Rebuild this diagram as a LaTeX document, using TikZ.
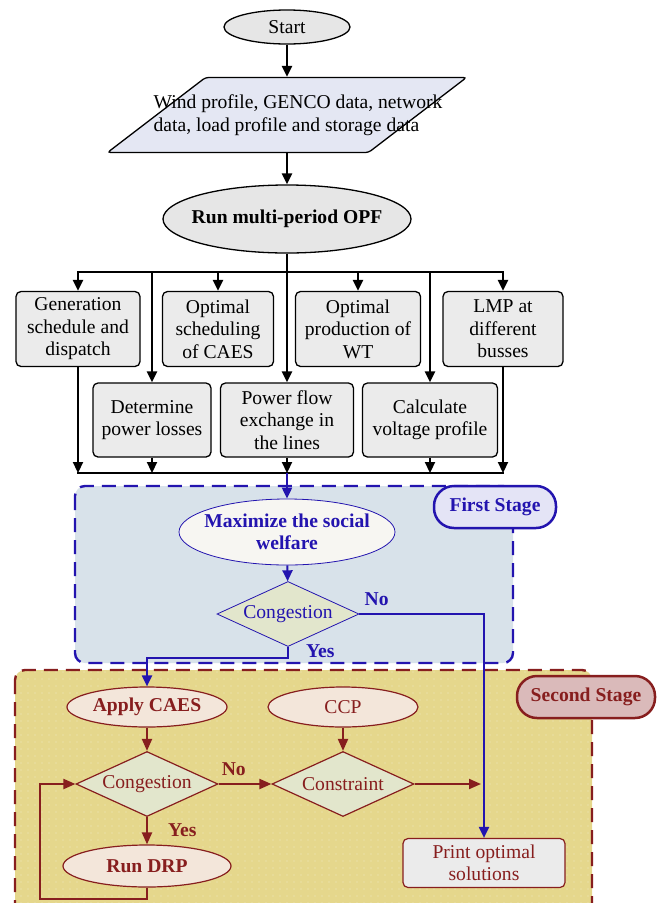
\documentclass[tikz,border=0pt]{standalone}
\usepackage{fontspec}
\setmainfont{Liberation Serif}
\usetikzlibrary{shapes.geometric, arrows.meta, patterns.meta}

\definecolor{fblue}{RGB}{35,20,175}
\definecolor{fred}{RGB}{135,30,30}
\definecolor{boxgray}{RGB}{235,235,235}
\definecolor{ellgray}{RGB}{230,230,230}
\definecolor{paraback}{RGB}{228,231,243}
\definecolor{stageone}{RGB}{216,226,234}
\definecolor{stagetwo}{RGB}{229,215,140}
\definecolor{labone}{RGB}{228,228,246}
\definecolor{labtwo}{RGB}{218,186,186}
\definecolor{ellcream}{RGB}{243,230,218}
\definecolor{ellwhite}{RGB}{247,246,242}
\definecolor{diamback}{RGB}{226,230,204}

\newcommand\flowfont{\fontsize{19.6}{22.5}\selectfont}

\tikzset{
	opfchart/.style={
			x=1pt, y=-1pt,
			every node/.style={font=\flowfont, align=center, inner sep=1pt},
			gbox/.style={rectangle, rounded corners=5pt, draw, line width=1.3pt, fill=boxgray, minimum height=75pt},
			gell/.style={ellipse, draw, line width=1.3pt, fill=ellgray},
			para/.style={trapezium, trapezium left angle=59, trapezium right angle=121, trapezium stretches=true, minimum width=359pt, minimum height=75pt, draw, line width=1.3pt, fill=paraback, rounded corners=3pt},
			bell/.style={ellipse, draw=fblue, line width=0.8pt, fill=ellwhite, text=fblue, font=\flowfont\bfseries},
			bdiam/.style={diamond, shape aspect=2.2, draw=fblue, line width=0.8pt, fill=diamback, text=fblue, minimum width=142pt, minimum height=65pt},
			rell/.style={ellipse, draw=fred, line width=1.2pt, fill=ellcream, text=fred},
			rdiam/.style={diamond, shape aspect=2.2, draw=fred, line width=1.2pt, fill=diamback, text=fred, minimum width=142pt, minimum height=65pt},
			rbox/.style={rectangle, rounded corners=5pt, draw=fred, line width=1.2pt, fill=boxgray, text=fred, minimum width=162pt, minimum height=49pt},
			stagetag/.style={rectangle, rounded corners=20pt, line width=2.5pt, minimum height=42pt, font=\flowfont\bfseries},
			blab/.style={text=fblue, font=\flowfont\bfseries},
			rlab/.style={text=fred, font=\flowfont\bfseries},
			bus/.style={line width=2.2pt, line cap=rect},
			arr/.style={-{Triangle[length=11pt,width=10pt]}, line width=2.2pt},
			barr/.style={-{Triangle[length=11pt,width=10pt]}, line width=2pt, draw=fblue},
			rarr/.style={-{Triangle[length=12pt,width=10pt]}, line width=2pt, draw=fred},
			region/.style={line width=2.4pt, dash pattern=on 14pt off 8pt, rounded corners=10pt},
		}
}

\begin{document}
\begin{tikzpicture}[opfchart]
	\useasboundingbox (0,0) rectangle (657,903);

	\draw[region, draw=fblue, fill=stageone] (75,486) rectangle (513,663);
	\begin{scope}
		\clip (0,0) rectangle (657,903);
		\draw[region, draw=fred, preaction={fill=stagetwo}, pattern={Dots[radius=0.7pt,distance=7pt]}, pattern color=stagetwo!55!white] (15,670) rectangle (592,940);
	\end{scope}

	\node[gell, minimum width=126pt, minimum height=34pt] (start) at (287,27) {Start};
	\node[para] (data) at (287,115) {};
	\node[align=left] (datatxt) at (298,115) {Wind profile, GENCO data, network\\data, load profile and storage data};
	\node[gell, font=\flowfont\bfseries, inner xsep=-10pt, minimum width=248pt, minimum height=68pt] (opf) at (287,219) {Run multi-period OPF};

	\node[gbox, minimum width=124pt] (gen) at (78,329) {Generation\\schedule and\\dispatch};
	\node[gbox, minimum width=111pt] (sched) at (218,329) {Optimal\\scheduling\\of CAES};
	\node[gbox, minimum width=125pt] (prod) at (358,329) {Optimal\\production of\\WT};
	\node[gbox, minimum width=120pt] (lmp) at (503,329) {LMP at\\different\\busses};
	\node[gbox, minimum width=118pt, minimum height=74pt] (loss) at (152,420) {Determine\\power losses};
	\node[gbox, minimum width=133pt, minimum height=74pt] (pflow) at (287,420) {Power flow\\exchange in\\the lines};
	\node[gbox, minimum width=135pt, minimum height=74pt] (volt) at (430,420) {Calculate\\voltage profile};
	\coordinate (topbus) at (287,272);
	\coordinate (botbus) at (287,473);

	\node[bell, inner xsep=-10pt, minimum width=216pt, minimum height=66pt] (welfare) at (287,532) {Maximize the social\\welfare};
	\node[bdiam] (cong1) at (288,614) {Congestion};
	\node[stagetag, draw=fblue, fill=labone, text=fblue, minimum width=122pt] (first) at (495,507) {First Stage};

	\node[rell, font=\flowfont\bfseries, minimum width=160pt, minimum height=40pt] (caes) at (147,707) {Apply CAES};
	\node[rell, minimum width=150pt, minimum height=40pt] (ccp) at (343,707) {CCP};
	\node[rdiam] (cong2) at (147,784) {Congestion};
	\node[rdiam] (cons) at (343,784) {Constraint};
	\node[rell, font=\flowfont\bfseries, minimum width=168pt, minimum height=42pt] (drp) at (147,866) {Run DRP};
	\node[rbox] (print) at (484,863) {Print optimal\\solutions};
	\node[stagetag, draw=fred, fill=labtwo, text=fred, minimum width=138pt] (second) at (586,697) {Second Stage};
	\coordinate (join) at (print.north |- cons.east);

	\draw[arr] (start) -- (data);
	\draw[arr] (data) -- (opf);
	\draw[bus] (gen.north |- topbus) -- (lmp.north |- topbus);
	\draw[arr] (opf) -- (pflow);
	\foreach \n in {gen, sched, prod, lmp, loss, volt}
		\draw[arr] (\n.north |- topbus) -- (\n.north);
	\draw[bus] (gen.south |- botbus) -- (lmp.south |- botbus);
	\foreach \n in {gen, loss, pflow, volt, lmp}
		\draw[arr] (\n.south) -- (\n.south |- botbus);

	\draw[barr] (botbus) -- (welfare);
	\draw[barr] (welfare) -- (cong1);
	\draw[barr] (cong1.east) -| (print.north);
	\draw[barr] (cong1.south) -- ++(0,11) -| (caes.north);
	\node[blab, anchor=south west] (no1) at ([xshift=4pt,yshift=7pt]cong1.east) {No};
	\node[blab, anchor=north west] (yes1) at ([xshift=17pt,yshift=3pt]cong1.south) {Yes};

	\draw[rarr] (caes) -- (cong2);
	\draw[rarr] (ccp) -- (cons);
	\draw[rarr] (cong2.east) -- (cons.west);
	\draw[rarr] (cons.east) -- ([xshift=-3pt]join);
	\draw[rarr] (cong2.south) -- (drp.north);
	\draw[rarr] (drp.south) -- ++(0,11) -| ([xshift=-35pt]cong2.west) -- (cong2.west);
	\node[rlab, anchor=south west] (no2) at ([xshift=2pt,yshift=7pt]cong2.east) {No};
	\node[rlab, anchor=north west] (yes2) at ([xshift=20pt,yshift=-5pt]cong2.south) {Yes};
\end{tikzpicture}
\end{document}
